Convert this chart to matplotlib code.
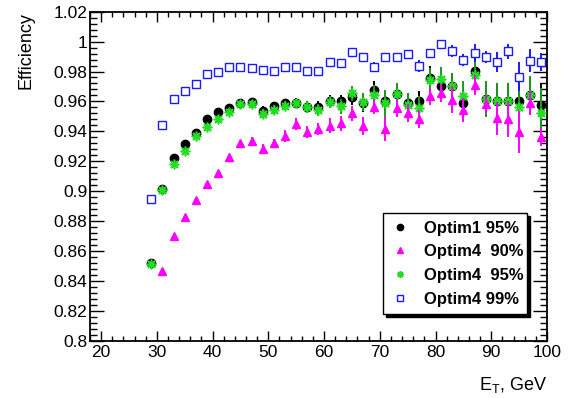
import numpy as np
import matplotlib
matplotlib.use('Agg')
import matplotlib.pyplot as plt
from matplotlib.ticker import MultipleLocator
from matplotlib.lines import Line2D

plt.rcParams['font.family'] = ['Liberation Sans', 'DejaVu Sans']

# E_T bin centres (GeV)
et = np.arange(29, 100, 2)

# efficiency values
optim1_95 = [0.8518, 0.9015, 0.9222, 0.9318, 0.9391, 0.9481, 0.9530, 0.9555, 0.9592, 0.9595,
             0.9537, 0.9568, 0.9588, 0.9592, 0.9563, 0.9563, 0.9605, 0.9603, 0.9628, 0.9592,
             0.9675, 0.9603, 0.9652, 0.9588, 0.9603, 0.9759, 0.9706, 0.9706, 0.9588, 0.9806,
             0.9615, 0.9605, 0.9603, 0.9605, 0.9644, 0.9575]
optim1_95_err = [0.001, 0.001, 0.001, 0.001, 0.0015, 0.0015, 0.002, 0.002, 0.002, 0.0025,
                 0.003, 0.003, 0.003, 0.003, 0.0035, 0.004, 0.004, 0.004, 0.005, 0.006,
                 0.006, 0.007, 0.006, 0.007, 0.007, 0.008, 0.008, 0.008, 0.009, 0.009,
                 0.011, 0.012, 0.012, 0.012, 0.012, 0.015]

optim4_90 = [np.nan, 0.8466, 0.8700, 0.8830, 0.8941, 0.9048, 0.9120, 0.9231, 0.9320, 0.9336,
             0.9282, 0.9320, 0.9369, 0.9447, 0.9398, 0.9416, 0.9438, 0.9454, 0.9520, 0.9438,
             0.9565, 0.9416, 0.9559, 0.9521, 0.9481, 0.9633, 0.9655, 0.9610, 0.9540, 0.9710,
             0.9583, 0.9488, 0.9481, 0.9398, 0.9592, 0.9361]
optim4_90_err = [0, 0.001, 0.001, 0.001, 0.0015, 0.0015, 0.002, 0.002, 0.002, 0.0025,
                 0.003, 0.003, 0.004, 0.004, 0.004, 0.004, 0.005, 0.005, 0.005, 0.006,
                 0.005, 0.008, 0.006, 0.006, 0.006, 0.006, 0.006, 0.009, 0.008, 0.007,
                 0.006, 0.011, 0.012, 0.014, 0.008, 0.006]

optim4_95 = [0.8515, 0.9010, 0.9182, 0.9269, 0.9369, 0.9431, 0.9485, 0.9532, 0.9583, 0.9583,
             0.9519, 0.9543, 0.9570, 0.9588, 0.9565, 0.9545, 0.9599, 0.9568, 0.9655, 0.9595,
             0.9640, 0.9588, 0.9652, 0.9577, 0.9554, 0.9742, 0.9752, 0.9706, 0.9639, 0.9779,
             0.9615, 0.9605, 0.9603, 0.9561, 0.9644, 0.9523]
optim4_95_err = [0.001, 0.001, 0.001, 0.001, 0.0015, 0.0015, 0.002, 0.002, 0.002, 0.0025,
                 0.003, 0.003, 0.003, 0.003, 0.004, 0.004, 0.004, 0.005, 0.005, 0.006,
                 0.007, 0.009, 0.007, 0.008, 0.008, 0.008, 0.008, 0.0085, 0.010, 0.009,
                 0.012, 0.012, 0.012, 0.013, 0.0125, 0.017]

optim4_99 = [0.8948, 0.9445, 0.9617, 0.9668, 0.9715, 0.9782, 0.9795, 0.9829, 0.9833, 0.9826,
             0.9811, 0.9804, 0.9829, 0.9829, 0.9806, 0.9806, 0.9866, 0.9855, 0.9929, 0.9894,
             0.9833, 0.9894, 0.9894, 0.9916, 0.9839, 0.9922, 0.9985, 0.9940, 0.9878, 0.9922,
             0.9896, 0.9862, 0.9936, 0.9766, 0.9872, 0.9864]
optim4_99_err = [0.0005, 0.0005, 0.0005, 0.0005, 0.0008, 0.0008, 0.001, 0.001, 0.001, 0.001,
                 0.001, 0.001, 0.001, 0.0012, 0.0015, 0.0015, 0.002, 0.002, 0.002, 0.003,
                 0.003, 0.003, 0.003, 0.003, 0.004, 0.003, 0.002, 0.004, 0.004, 0.006,
                 0.004, 0.0067, 0.005, 0.0098, 0.0078, 0.006]

labels = ['Optim1 95%', 'Optim4  90%', 'Optim4  95%', 'Optim4 99%']

fig = plt.figure(figsize=(5.79, 3.98), dpi=100)
ax = fig.add_axes([0.1554, 0.144, 0.7893, 0.8266])

ax.errorbar(et, optim1_95, yerr=optim1_95_err, fmt='o', color='black', ms=6,
            elinewidth=1.4, capsize=0, zorder=2)
ax.errorbar(et, optim4_95, yerr=optim4_95_err, fmt='none', ecolor='#1e9a1e',
            elinewidth=1.4, capsize=0, zorder=3)
ax.plot(et, optim4_95, ls='none', marker=(8, 2, 0), color='#22dd22', ms=7, mew=1.2, zorder=4)
ax.errorbar(et, optim4_90, yerr=optim4_90_err, fmt='^', color='#ff00ff', ms=5.5,
            elinewidth=1.4, capsize=0, zorder=5)
ax.errorbar(et, optim4_99, yerr=optim4_99_err, fmt='s', color='#1a1aff', mfc='white',
            ms=6, mew=1.0, elinewidth=1.4, capsize=0, zorder=6)

ax.set_xlim(18, 100)
ax.set_ylim(0.8, 1.02)
ax.xaxis.set_minor_locator(MultipleLocator(2))
ax.yaxis.set_minor_locator(MultipleLocator(0.004))
ax.set_xticks(np.arange(20, 101, 10))
ax.set_xticklabels([str(v) for v in range(20, 101, 10)])
ax.set_yticks(np.arange(0.8, 1.021, 0.02))
ax.set_yticklabels(['0.8', '0.82', '0.84', '0.86', '0.88', '0.9', '0.92', '0.94', '0.96',
                    '0.98', '1', '1.02'])

ax.tick_params(which='both', direction='in', top=True, right=True, labelsize=12.5, width=1)
ax.tick_params(axis='y', which='major', length=10, pad=2)
ax.tick_params(axis='y', which='minor', length=5)
ax.tick_params(axis='x', which='major', length=7, pad=3)
ax.tick_params(axis='x', which='minor', length=3.5)
for s in ax.spines.values():
    s.set_linewidth(1.3)

ax.set_xlabel(r'E$_{\mathregular{T}}$, GeV', fontsize=13, loc='right')
ax.xaxis.set_label_coords(1.0, -0.105)
ax.xaxis.label.set_va('top')
ax.set_ylabel('Efficiency', fontsize=13, loc='top')
ax.yaxis.set_label_coords(-0.122, 1.0)

# legend with smaller markers like in the original
lh = [Line2D([], [], ls='none', marker='o', color='black', ms=4.5),
      Line2D([], [], ls='none', marker='^', color='#ff00ff', ms=4.5),
      Line2D([], [], ls='none', marker=(8, 2, 0), color='#22dd22', ms=5, mew=1),
      Line2D([], [], ls='none', marker='s', color='#1a1aff', mfc='white', ms=5, mew=1)]
leg = ax.legend(lh, labels, loc='lower left', bbox_to_anchor=(0.641, 0.081, 0.315, 0.316),
                mode='expand', prop={'weight': 'bold', 'size': 12}, fancybox=False,
                shadow={'color': 'black', 'alpha': 1}, framealpha=1, borderaxespad=0,
                handlelength=1.2, handletextpad=0.8, labelspacing=0.52, borderpad=0.45)
leg.get_frame().set_edgecolor('black')
leg.get_frame().set_linewidth(1.0)

fig.savefig('out.png', dpi=100)
